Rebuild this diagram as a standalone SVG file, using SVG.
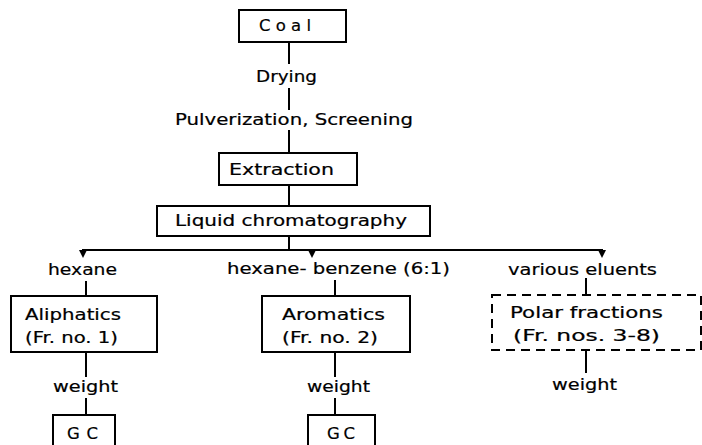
<svg xmlns="http://www.w3.org/2000/svg" width="702" height="445" viewBox="0 0 702 445">
<style>
.box{fill:#fff;stroke:#000;stroke-width:2}
.dash{fill:#fff;stroke:#000;stroke-width:2;stroke-dasharray:9 6}
.ln{stroke:#000;stroke-width:2;fill:none}
text{font-family:"DejaVu Sans","Liberation Sans",sans-serif;font-size:15.5px;fill:#000;stroke:#000;stroke-width:0.2}
.big{font-size:16.5px}
</style>
<rect width="702" height="445" fill="#fff"/>
<g id="connectors">
<line class="ln" x1="289" y1="42" x2="289" y2="64"/>
<line class="ln" x1="289" y1="88" x2="289" y2="110"/>
<line class="ln" x1="289" y1="130" x2="289" y2="153"/>
<line class="ln" x1="289" y1="185" x2="289" y2="206"/>
<line class="ln" x1="289" y1="236" x2="289" y2="250"/>
<line class="ln" x1="82" y1="250" x2="603" y2="250"/>
<path d="M79,250 L87,250 L83,258 Z" fill="#000"/>
<path d="M308,250 L316,250 L312,258 Z" fill="#000"/>
<path d="M598,250 L606,250 L602,258 Z" fill="#000"/>
<line class="ln" x1="86" y1="281" x2="86" y2="296"/>
<line class="ln" x1="86" y1="352" x2="86" y2="377"/>
<line class="ln" x1="86" y1="398" x2="86" y2="415"/>
<line class="ln" x1="335" y1="280" x2="335" y2="296"/>
<line class="ln" x1="335" y1="352" x2="335" y2="377"/>
<line class="ln" x1="335" y1="398" x2="335" y2="415"/>
<line class="ln" x1="586" y1="278" x2="586" y2="295"/>
<line class="ln" x1="586" y1="350" x2="586" y2="373"/>
</g>
<g id="coal">
<rect class="box" x="239" y="10" width="107" height="32"/>
<text class="big" x="259" y="31" textLength="52" lengthAdjust="spacing">Coal</text>
</g>
<g id="drying">
<text x="256" y="82" textLength="61" lengthAdjust="spacingAndGlyphs">Drying</text>
</g>
<g id="pulverization">
<text x="175" y="125" textLength="238" lengthAdjust="spacingAndGlyphs">Pulverization, Screening</text>
</g>
<g id="extraction">
<rect class="box" x="219" y="153" width="138" height="32"/>
<text x="229" y="175" textLength="105" lengthAdjust="spacingAndGlyphs">Extraction</text>
</g>
<g id="lc">
<rect class="box" x="157" y="206" width="273" height="30"/>
<text x="175" y="226" textLength="232" lengthAdjust="spacingAndGlyphs">Liquid chromatography</text>
</g>
<g id="hexane">
<text x="48" y="275" textLength="69" lengthAdjust="spacingAndGlyphs">hexane</text>
</g>
<g id="hexane-benzene">
<text x="227" y="274" textLength="223" lengthAdjust="spacingAndGlyphs">hexane- benzene (6:1)</text>
</g>
<g id="various-eluents">
<text x="508" y="275" textLength="149" lengthAdjust="spacingAndGlyphs">various eluents</text>
</g>
<g id="aliphatics">
<rect class="box" x="11" y="296" width="146" height="56"/>
<text x="25" y="320" textLength="96" lengthAdjust="spacingAndGlyphs">Aliphatics</text>
<text x="25" y="343" textLength="93" lengthAdjust="spacingAndGlyphs">(Fr. no. 1)</text>
</g>
<g id="aromatics">
<rect class="box" x="262" y="296" width="148" height="56"/>
<text x="282" y="320" textLength="103" lengthAdjust="spacingAndGlyphs">Aromatics</text>
<text x="282" y="343" textLength="96" lengthAdjust="spacingAndGlyphs">(Fr. no. 2)</text>
</g>
<g id="polar">
<rect class="dash" x="492" y="295" width="209" height="55"/>
<text x="510" y="318" textLength="153" lengthAdjust="spacingAndGlyphs">Polar fractions</text>
<text x="513" y="341" textLength="147" lengthAdjust="spacingAndGlyphs">(Fr. nos. 3-8)</text>
</g>
<g id="weight1">
<text x="53" y="392" textLength="65" lengthAdjust="spacingAndGlyphs">weight</text>
</g>
<g id="weight2">
<text x="307" y="392" textLength="63" lengthAdjust="spacingAndGlyphs">weight</text>
</g>
<g id="weight3">
<text x="552" y="390" textLength="65" lengthAdjust="spacingAndGlyphs">weight</text>
</g>
<g id="gc1">
<rect class="box" x="53" y="415" width="62" height="40"/>
<text class="big" x="67" y="439" textLength="31" lengthAdjust="spacing">GC</text>
</g>
<g id="gc2">
<rect class="box" x="308" y="415" width="67" height="40"/>
<text class="big" x="327" y="439" textLength="28" lengthAdjust="spacing">GC</text>
</g>
</svg>
